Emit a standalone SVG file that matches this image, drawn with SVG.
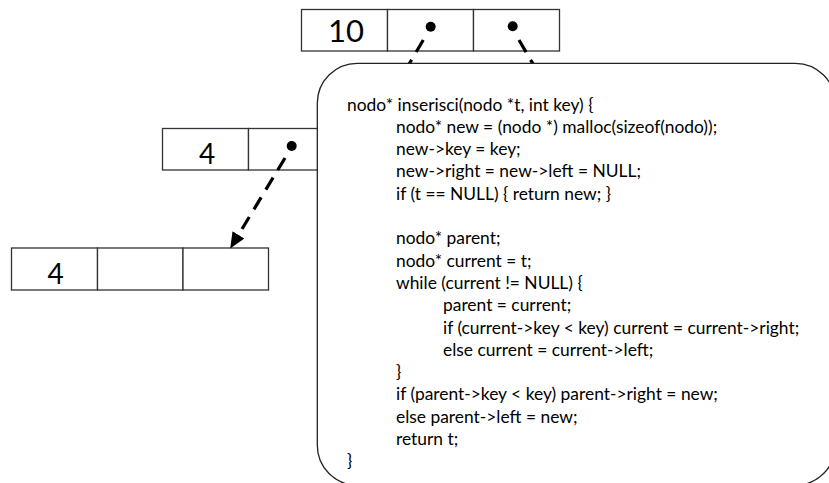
<svg xmlns="http://www.w3.org/2000/svg" width="829" height="483" viewBox="0 0 829 483">
  <style>
    .cell { fill: #ffffff; stroke: #333333; stroke-width: 1.3; }
    .key { font-family: Lato, "Liberation Sans", sans-serif; fill: #000000; text-anchor: middle; }
    .dot { fill: #000000; }
    .ptr { fill: none; stroke: #000000; stroke-width: 3.2; stroke-dasharray: 14 9; }
    .box { fill: #ffffff; stroke: #222222; stroke-width: 1.3; }
    .code { font-family: Lato, "Liberation Sans", sans-serif; font-size: 17.4px; fill: #000000; }
  </style>
  <defs>
    <marker id="head" markerUnits="userSpaceOnUse" markerWidth="20" markerHeight="20" refX="0" refY="7" orient="auto">
      <path d="M0,0 L16,7 L0,14 Z" fill="#000000"/>
    </marker>
  </defs>

  <!-- root node: key 10 -->
  <g id="node-10">
    <rect class="cell" x="301.5" y="9.5" width="86" height="41.5"/>
    <rect class="cell" x="387.5" y="9.5" width="86" height="41.5"/>
    <rect class="cell" x="473.5" y="9.5" width="86" height="41.5"/>
    <text class="key" x="346" y="42" font-size="31">10</text>
    <circle class="dot" cx="430.7" cy="26.7" r="5"/>
    <circle class="dot" cx="512.7" cy="26.3" r="5"/>
  </g>

  <!-- existing node: key 4 -->
  <g id="node-4-parent">
    <rect class="cell" x="162.5" y="128.5" width="86" height="41.5"/>
    <rect class="cell" x="248.5" y="128.5" width="86" height="41.5"/>
    <rect class="cell" x="334.5" y="128.5" width="86" height="41.5"/>
    <text class="key" x="207" y="163.5" font-size="28">4</text>
    <circle class="dot" cx="291.7" cy="146" r="5"/>
  </g>

  <!-- newly inserted node: key 4 -->
  <g id="node-4-new">
    <rect class="cell" x="11.5" y="248" width="86" height="42"/>
    <rect class="cell" x="97.5" y="248" width="85.5" height="42"/>
    <rect class="cell" x="183" y="248" width="85.5" height="42"/>
    <text class="key" x="55.5" y="283.5" font-size="28">4</text>
  </g>

  <!-- pointer connectors -->
  <g id="connectors">
    <line class="ptr" x1="423.3" y1="40" x2="402" y2="76"/>
    <line class="ptr" x1="519" y1="40" x2="540" y2="76"/>
    <line class="ptr" x1="285" y1="158" x2="238.5" y2="234.8" marker-end="url(#head)"/>
  </g>

  <!-- code listing panel -->
  <g id="code-panel">
    <rect class="box" x="317.3" y="63.3" width="518" height="422" rx="40" ry="40"/>
    <text class="code" x="347" y="110.5">nodo* inserisci(nodo *t, int key) {</text>
    <text class="code" x="396" y="132.8">nodo* new = (nodo *) malloc(sizeof(nodo));</text>
    <text class="code" x="396" y="155.1">new-&gt;key = key;</text>
    <text class="code" x="396" y="177.4">new-&gt;right = new-&gt;left = NULL;</text>
    <text class="code" x="396" y="199.7">if (t == NULL) { return new; }</text>
    <text class="code" x="396" y="244.3">nodo* parent;</text>
    <text class="code" x="396" y="266.6">nodo* current = t;</text>
    <text class="code" x="396" y="288.9">while (current != NULL) {</text>
    <text class="code" x="443" y="311.2">parent = current;</text>
    <text class="code" x="443" y="333.5">if (current-&gt;key &lt; key) current = current-&gt;right;</text>
    <text class="code" x="443" y="355.8">else current = current-&gt;left;</text>
    <text class="code" x="396" y="378.1">}</text>
    <text class="code" x="396" y="400.4">if (parent-&gt;key &lt; key) parent-&gt;right = new;</text>
    <text class="code" x="396" y="422.7">else parent-&gt;left = new;</text>
    <text class="code" x="396" y="445">return t;</text>
    <text class="code" x="347" y="467.3">}</text>
  </g>
</svg>
